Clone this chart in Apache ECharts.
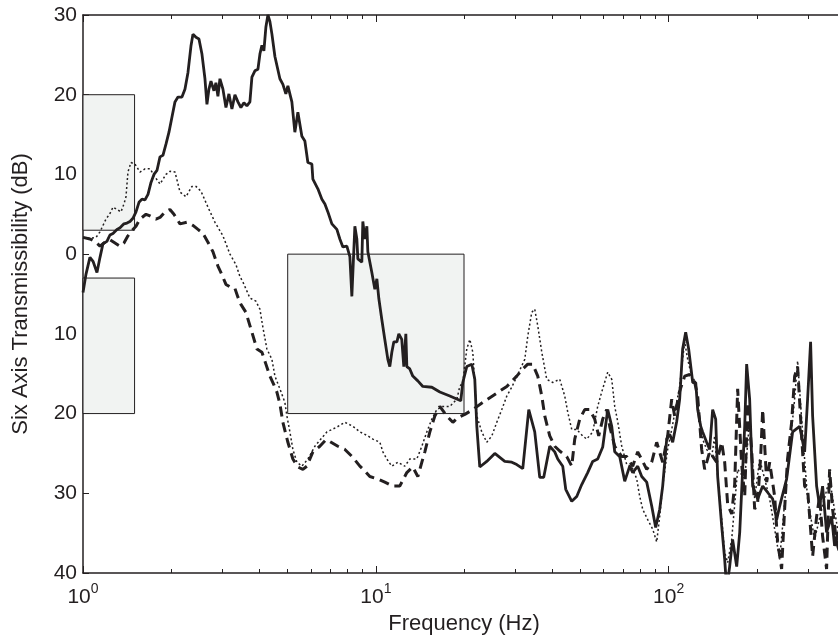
<!DOCTYPE html>
<html><head><meta charset="utf-8">
<script src="https://cdn.jsdelivr.net/npm/echarts@6/dist/echarts.min.js"></script>
<style>html,body{margin:0;padding:0;background:#fff}#c{width:838px;height:635px}</style>
</head><body><div id="c"></div>
<script>
// Frequency (Hz), transmissibility (dB)
const solidSeries = [[1.000,-4.8],[1.024,-2.5],[1.056,-0.4],[1.082,-0.9],[1.116,-2.3],[1.143,-0.4],[1.170,1.3],[1.207,1.6],[1.236,2.4],[1.266,2.6],[1.306,3.1],[1.338,3.3],[1.380,3.8],[1.413,3.9],[1.447,4.1],[1.481,4.5],[1.517,5.3],[1.553,6.5],[1.590,6.9],[1.628,6.8],[1.667,7.5],[1.707,9.0],[1.747,10.0],[1.789,10.5],[1.832,12.2],[1.875,12.4],[1.920,13.8],[1.966,15.3],[2.013,17.2],[2.061,19.1],[2.110,19.7],[2.177,19.7],[2.229,20.7],[2.283,22.8],[2.337,26.1],[2.374,27.6],[2.431,27.2],[2.489,27.0],[2.548,25.1],[2.609,22.0],[2.650,18.8],[2.692,20.7],[2.735,21.7],[2.800,20.5],[2.844,21.5],[2.889,19.8],[2.935,22.0],[3.005,20.7],[3.077,18.4],[3.150,20.1],[3.225,18.2],[3.302,20.0],[3.381,19.1],[3.461,18.4],[3.544,19.0],[3.628,18.6],[3.715,19.1],[3.774,22.2],[3.864,23.0],[3.957,23.2],[4.019,25.1],[4.083,26.2],[4.147,25.5],[4.213,28.5],[4.280,30.0],[4.347,29.2],[4.417,27.6],[4.522,24.8],[4.703,22.0],[4.815,21.3],[4.929,20.1],[5.008,21.1],[5.167,19.1],[5.290,15.3],[5.417,17.8],[5.590,14.8],[5.723,14.2],[5.860,11.5],[6.047,11.3],[6.095,9.4],[6.339,8.2],[6.543,6.9],[6.699,6.3],[6.858,5.3],[7.077,3.8],[7.360,3.1],[7.535,1.9],[7.715,0.9],[7.962,1.0],[8.152,-0.3],[8.281,-5.3],[8.479,3.5],[8.613,1.9],[8.681,-0.6],[8.957,-1.0],[9.028,4.1],[9.172,1.9],[9.318,3.5],[9.391,0.3],[9.690,-2.3],[9.922,-4.4],[10.08,-3.1],[10.24,-5.6],[10.48,-8.2],[10.73,-10.7],[10.99,-13.2],[11.16,-14.1],[11.34,-12.3],[11.52,-11.0],[11.80,-11.0],[11.98,-10.0],[12.26,-10.7],[12.46,-14.1],[12.66,-10.0],[12.76,-14.1],[13.06,-14.4],[13.37,-15.3],[13.91,-15.9],[14.47,-16.6],[15.53,-16.7],[16.54,-17.3],[17.89,-17.8],[19.50,-18.4],[19.81,-16.1],[20.44,-14.1],[21.27,-13.8],[21.77,-15.7],[22.12,-21.6],[22.64,-26.7],[23.92,-26.0],[25.48,-25.0],[27.56,-26.0],[29.12,-26.1],[30.28,-26.4],[31.75,-26.9],[33.28,-19.5],[34.88,-22.3],[36.28,-28.0],[37.44,-28.0],[39.25,-24.1],[40.82,-24.8],[41.80,-25.7],[43.47,-26.6],[44.51,-29.5],[46.66,-31.0],[48.53,-30.4],[50.47,-28.9],[52.90,-27.4],[55.03,-26.0],[57.23,-25.7],[59.53,-24.2],[61.92,-19.5],[63.91,-21.6],[65.42,-24.8],[68.05,-25.4],[70.77,-28.5],[73.60,-26.6],[75.35,-27.4],[78.39,-26.6],[80.89,-27.9],[84.13,-28.6],[87.50,-31.6],[90.28,-34.3],[93.18,-32.0],[95.39,-29.1],[98.44,-23.2],[100.8,-22.6],[103.2,-23.6],[106.5,-21.0],[109.0,-18.2],[111.6,-11.9],[114.3,-9.8],[117.0,-11.9],[120.8,-16.1],[123.7,-16.1],[125.6,-19.5],[128.6,-21.6],[130.6,-22.3],[134.8,-23.6],[138.0,-24.5],[141.3,-19.5],[144.7,-20.7],[147.0,-27.9],[151.7,-34.1],[155.3,-38.3],[157.8,-42.0],[161.5,-39.2],[165.3,-35.8],[170.7,-39.2],[174.8,-34.9],[181.8,-21.6],[184.6,-13.8],[189.0,-18.2],[193.5,-29.1],[201.3,-30.7],[209.4,-29.1],[217.8,-29.9],[226.4,-30.7],[233.7,-33.3],[239.3,-31.6],[252.8,-28.2],[265.0,-22.3],[280.0,-21.6],[291.2,-24.8],[298.1,-18.2],[305.2,-11.0],[310.1,-20.3],[320.0,-29.1],[327.6,-31.6],[335.4,-29.1],[346.1,-34.9],[360.0,-32.9],[368.6,-36.6],[377.4,-34.9],[389.0,-38.3]];

const dashedSeries = [[1.000,2.1],[1.056,1.9],[1.099,1.6],[1.143,1.0],[1.189,1.5],[1.236,1.8],[1.286,1.4],[1.338,1.0],[1.380,1.4],[1.424,2.3],[1.481,3.1],[1.517,3.5],[1.565,4.4],[1.641,5.0],[1.694,4.8],[1.775,4.4],[1.832,4.6],[1.905,5.3],[1.981,5.6],[2.044,5.0],[2.144,3.8],[2.265,4.0],[2.374,3.6],[2.469,3.1],[2.568,2.6],[2.671,1.5],[2.778,0.3],[2.889,-1.5],[2.982,-2.6],[3.077,-3.8],[3.175,-4.1],[3.302,-4.3],[3.381,-5.4],[3.461,-6.3],[3.600,-7.3],[3.774,-9.8],[3.926,-11.9],[4.083,-12.3],[4.213,-13.8],[4.347,-15.3],[4.486,-16.4],[4.593,-17.3],[4.703,-18.8],[4.815,-21.1],[4.929,-22.6],[5.008,-23.6],[5.208,-25.7],[5.417,-26.7],[5.634,-27.0],[5.813,-26.6],[6.095,-24.8],[6.439,-24.1],[6.752,-23.3],[6.966,-23.5],[7.418,-24.1],[7.840,-24.5],[8.348,-25.5],[8.820,-26.6],[9.172,-27.2],[9.539,-27.9],[10.16,-28.2],[10.73,-28.6],[11.43,-29.1],[12.07,-29.1],[12.76,-27.4],[13.37,-26.7],[13.91,-27.9],[14.36,-26.1],[14.70,-24.8],[15.29,-22.3],[15.90,-20.3],[16.54,-19.1],[17.47,-20.3],[18.32,-21.1],[19.05,-20.5],[20.13,-20.1],[21.43,-19.5],[23.19,-18.6],[25.48,-17.6],[28.00,-16.6],[30.28,-15.3],[31.75,-14.4],[33.02,-13.8],[34.34,-13.8],[35.72,-15.3],[36.87,-17.8],[37.74,-20.3],[39.25,-22.8],[40.82,-24.1],[42.46,-24.7],[44.87,-25.4],[46.66,-26.6],[47.77,-23.2],[49.68,-20.7],[51.67,-19.5],[53.75,-19.5],[55.90,-20.7],[57.68,-22.8],[59.53,-20.7],[61.43,-19.5],[62.89,-21.6],[65.42,-24.1],[69.14,-25.4],[71.90,-25.4],[75.35,-26.6],[78.39,-24.8],[81.52,-26.0],[84.13,-27.0],[87.50,-26.1],[91.00,-23.6],[95.39,-26.1],[99.20,-22.8],[102.4,-18.2],[104.8,-20.3],[109.0,-17.2],[113.4,-15.3],[117.9,-15.1],[122.7,-16.1],[125.6,-17.8],[129.6,-24.5],[132.7,-27.0],[138.0,-24.8],[145.8,-26.1],[151.7,-23.6],[155.3,-26.1],[159.0,-31.4],[164.1,-32.6],[168.0,-28.9],[172.0,-16.9],[177.5,-26.4],[181.8,-30.4],[186.1,-18.6],[192.0,-24.5],[196.6,-32.0],[201.3,-31.1],[206.1,-25.4],[209.4,-19.5],[216.1,-28.6],[221.2,-26.1],[230.1,-30.4],[235.5,-36.1],[243.0,-39.5],[248.8,-32.0],[254.6,-25.7],[262.9,-21.1],[269.2,-15.3],[275.6,-14.1],[284.4,-22.8],[291.2,-29.1],[298.1,-29.5],[310.1,-37.9],[320.0,-32.9],[327.6,-30.4],[335.4,-35.4],[346.1,-39.5],[354.4,-27.0],[362.8,-32.0],[374.4,-36.1],[389.0,-38.3]];

const dottedSeries = [[1.000,2.1],[1.056,2.0],[1.108,2.1],[1.143,2.8],[1.198,4.4],[1.236,5.1],[1.266,5.9],[1.306,5.6],[1.348,5.3],[1.380,6.3],[1.402,7.2],[1.424,10.3],[1.458,11.5],[1.505,11.3],[1.565,10.3],[1.628,10.7],[1.694,10.7],[1.761,9.7],[1.832,8.8],[1.920,10.0],[1.981,10.4],[2.061,10.3],[2.144,7.8],[2.247,7.2],[2.355,8.5],[2.431,8.5],[2.528,7.9],[2.671,5.9],[2.822,4.0],[3.005,2.3],[3.175,0.0],[3.328,-1.3],[3.434,-2.8],[3.516,-3.5],[3.715,-5.5],[3.894,-5.9],[4.019,-6.9],[4.115,-9.2],[4.246,-11.9],[4.417,-13.2],[4.522,-15.3],[4.703,-16.9],[4.891,-18.6],[4.969,-20.3],[5.088,-22.3],[5.208,-24.5],[5.375,-26.1],[5.590,-26.6],[5.860,-25.7],[6.191,-24.1],[6.805,-22.3],[7.360,-21.7],[7.840,-21.1],[8.348,-21.6],[8.820,-22.3],[9.391,-22.8],[9.767,-23.2],[10.32,-23.6],[10.57,-24.8],[10.90,-25.7],[11.34,-26.6],[11.89,-26.1],[12.56,-26.6],[13.06,-25.7],[13.80,-25.7],[14.36,-24.1],[14.93,-22.3],[15.53,-20.7],[16.15,-19.5],[16.93,-19.1],[17.89,-19.1],[18.91,-18.2],[19.35,-16.6],[19.81,-16.1],[20.44,-11.9],[20.94,-10.7],[21.43,-12.3],[21.77,-16.1],[22.12,-20.3],[23.00,-22.3],[23.92,-23.6],[24.89,-22.8],[25.88,-21.1],[26.92,-19.5],[28.00,-17.8],[29.12,-16.7],[30.52,-15.1],[32.25,-13.2],[33.02,-10.3],[34.07,-7.3],[34.88,-6.9],[35.72,-9.0],[36.87,-12.3],[38.33,-15.7],[40.19,-16.1],[42.46,-15.7],[44.16,-17.8],[45.21,-19.8],[46.66,-22.0],[48.53,-22.0],[50.87,-22.8],[52.49,-23.2],[55.03,-22.3],[57.23,-19.1],[59.06,-17.3],[61.92,-14.8],[63.91,-15.7],[65.42,-19.1],[66.97,-21.0],[69.14,-24.1],[71.90,-26.4],[74.76,-26.6],[77.77,-28.2],[79.62,-30.4],[81.52,-32.0],[84.79,-33.3],[88.18,-34.5],[91.00,-36.1],[93.18,-32.9],[95.39,-29.1],[99.20,-24.5],[102.4,-22.0],[106.5,-18.6],[109.0,-16.6],[110.8,-14.1],[113.4,-11.0],[116.1,-13.2],[119.8,-15.3],[123.7,-16.1],[127.6,-20.7],[130.6,-23.2],[134.8,-24.5],[140.2,-25.4],[143.6,-22.8],[147.0,-27.9],[151.7,-33.3],[155.3,-37.4],[159.0,-38.7],[164.1,-35.8],[172.0,-27.0],[181.8,-28.2],[189.0,-20.7],[196.6,-30.7],[204.5,-25.7],[212.7,-28.2],[221.2,-30.7],[239.3,-38.3],[254.6,-27.0],[269.2,-18.2],[275.6,-13.4],[284.4,-20.7],[298.1,-30.7],[315.0,-35.8],[332.8,-32.0],[354.4,-28.2],[377.4,-34.5],[389.0,-36.4]];

// Shaded limit boxes: [fLow, fHigh, dBTop, dBBottom]
const limitBoxes = [[1, 1.5, 20, 3], [1, 1.5, -3, -20], [5, 20, 0, -20]];

// Axis settings
const xRange = [1, 400];
const yRange = [-40, 30];
const yStep = 10;
const xMajorTicks = [1, 10, 100];
const xMinorTicks = [2,3,4,5,6,7,8,9,20,30,40,50,60,70,80,90,200,300,400];

const INK = '#231f20';
const FONT = 'Liberation Sans';

const chart = echarts.init(document.getElementById('c'), null, {renderer: 'canvas'});

function xAxisDef(pos, ticks, len, showLine, showLabel, extra) {
  return Object.assign({
    type: 'log', logBase: 10, position: pos, min: xRange[0], max: xRange[1],
    axisLine: {show: showLine, onZero: false, lineStyle: {color: INK, width: 1.5}},
    axisTick: {show: true, inside: true, length: len, customValues: ticks, lineStyle: {color: INK, width: 1}},
    axisLabel: {show: showLabel},
    splitLine: {show: false}, minorTick: {show: false}, minorSplitLine: {show: false}
  }, extra || {});
}

const option = {
  animation: false,
  backgroundColor: '#fff',
  grid: {left: 83, top: 15, right: -7, bottom: 62, containLabel: false, outerBoundsMode: 'none'},
  xAxis: [
    xAxisDef('bottom', xMajorTicks, 7, true, true, {
      name: 'Frequency (Hz)', nameLocation: 'middle', nameGap: 38,
      nameTextStyle: {fontFamily: FONT, fontSize: 22, color: INK},
      axisLabel: {
        show: true, margin: 9, customValues: xMajorTicks,
        formatter: v => {
          const e = Math.log10(v);
          return Math.abs(e - Math.round(e)) < 1e-6 ? '{b|10}{s|' + Math.round(e) + '}' : '';
        },
        rich: {
          b: {fontFamily: FONT, fontSize: 21, color: INK, lineHeight: 26, verticalAlign: 'bottom'},
          s: {fontFamily: FONT, fontSize: 14, color: INK, lineHeight: 26, verticalAlign: 'top'}
        }
      }
    }),
    xAxisDef('bottom', xMinorTicks, 4, false, false),
    xAxisDef('top', xMajorTicks, 7, true, false),
    xAxisDef('top', xMinorTicks, 4, false, false)
  ],
  yAxis: [{
    type: 'value', min: yRange[0], max: yRange[1], interval: yStep, position: 'left',
    name: 'Six Axis Transmissibility (dB)', nameLocation: 'middle', nameGap: 51,
    nameTextStyle: {fontFamily: FONT, fontSize: 22, color: INK},
    axisLine: {show: true, lineStyle: {color: INK, width: 1.5}},
    axisTick: {show: true, inside: true, length: 6, lineStyle: {color: INK, width: 1}},
    axisLabel: {fontFamily: FONT, fontSize: 21, color: INK, margin: 6, formatter: v => String(Math.abs(v))},
    splitLine: {show: false}
  }],
  series: [
    {
      type: 'line', name: 'limits', xAxisIndex: 0, yAxisIndex: 0, data: [], z: 1, silent: true,
      markArea: {
        silent: true,
        itemStyle: {color: '#f1f3f2', opacity: 1, borderColor: INK, borderWidth: 1},
        data: limitBoxes.map(b => [{xAxis: b[0], yAxis: b[2]}, {xAxis: b[1], yAxis: b[3]}])
      }
    },
    {
      type: 'line', name: 'dotted', data: dottedSeries, xAxisIndex: 0, showSymbol: false, symbol: 'none', z: 3,
      lineStyle: {color: INK, width: 1.5, type: [2, 2.5]}
    },
    {
      type: 'line', name: 'dashed', data: dashedSeries, xAxisIndex: 0, showSymbol: false, symbol: 'none', z: 4,
      lineStyle: {color: INK, width: 3, type: [10, 6]}
    },
    {
      type: 'line', name: 'solid', data: solidSeries, xAxisIndex: 0, showSymbol: false, symbol: 'none', z: 5,
      lineStyle: {color: INK, width: 2.8}
    }
  ]
};
chart.setOption(option);
</script>
</body></html>
